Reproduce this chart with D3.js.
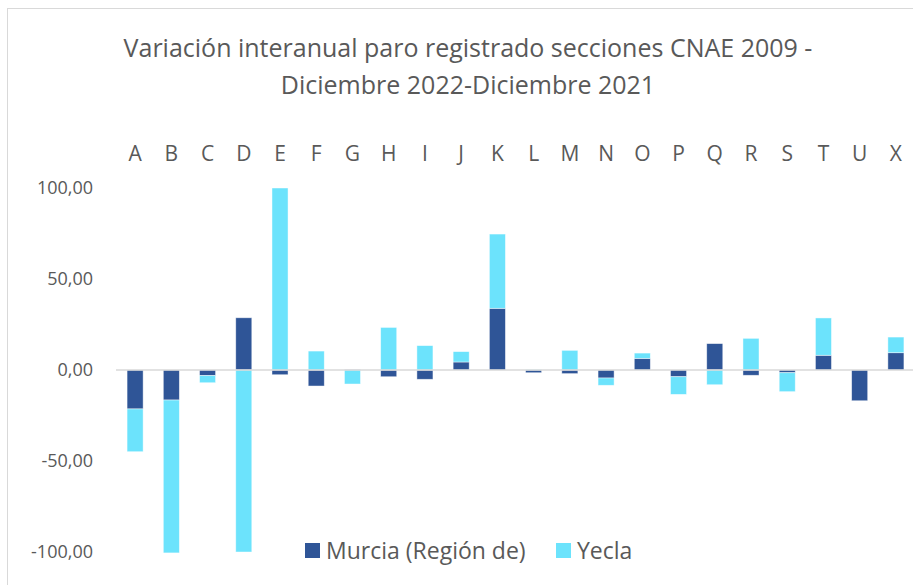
<!DOCTYPE html>
<html>
<head>
<meta charset="utf-8">
<script src="https://cdn.jsdelivr.net/npm/d3@7/dist/d3.min.js"></script>
<style>
  body { margin: 0; background: #fff; }
  svg text { font-family: "Open Sans", "Noto Sans", sans-serif; fill: #595959; }
</style>
</head>
<body>
<div id="chart"></div>
<script>
const categories = [`A`, `B`, `C`, `D`, `E`, `F`, `G`, `H`, `I`, `J`, `K`, `L`, `M`, `N`, `O`, `P`, `Q`, `R`, `S`, `T`, `U`, `X`];
const murcia = [-21.4, -16.5, -3.1, 28.7, -2.6, -8.8, 0.2, -3.7, -5.1, 4.4, 33.9, -1.5, -2.0, -4.4, 6.4, -3.7, 14.5, -2.9, -1.5, 8.1, -16.9, 9.5];
const yecla = [-23.5, -84.0, -3.9, -100.0, 100.0, 10.4, -7.7, 23.4, 13.4, 5.7, 40.8, 0.2, 10.8, -4.0, 2.9, -9.7, -8.1, 17.4, -10.4, 20.5, 0, 8.6];
const seriesNames = [`Murcia (Región de)`, `Yecla`];
const yTicks = [-100, -50, 0, 50, 100];
const titleLines = [`Variación interanual paro registrado secciones CNAE 2009 -`, `Diciembre 2022-Diciembre 2021`];

const width = 913, height = 585;
const colors = [`#2f5597`, `#6ce3fc`];

const svg = d3.select(`#chart`).append(`svg`)
    .attr(`width`, width)
    .attr(`height`, height);

// chart frame (cropped on right/bottom like the original)
svg.append(`rect`)
    .attr(`x`, 7.5).attr(`y`, 8.5)
    .attr(`width`, width + 20).attr(`height`, height + 20)
    .attr(`fill`, `none`)
    .attr(`stroke`, `#d9d9d9`);

svg.append(`text`)
    .attr(`text-anchor`, `middle`)
    .attr(`font-size`, 25)
    .selectAll(`tspan`)
    .data(titleLines)
  .enter().append(`tspan`)
    .attr(`x`, 468)
    .attr(`y`, (d, i) => 57 + i * 37)
    .text(d => d);

const table = categories.map((c, i) => ({ cat: c, m: murcia[i], y: yecla[i] }));
const stacked = d3.stack()
    .keys([`m`, `y`])
    .offset(d3.stackOffsetDiverging)(table);

const x = d3.scaleBand()
    .domain(categories)
    .range([117, 914])
    .paddingInner(0.557)
    .paddingOuter(0.278);

const y = d3.scaleLinear()
    .domain([-100, 100])
    .range([552, 188]);

// y axis labels
const yAxis = svg.append(`g`)
    .attr(`transform`, `translate(93,0)`)
    .call(d3.axisLeft(y).tickValues(yTicks).tickSize(0).tickPadding(0)
      .tickFormat(d => d3.format(`.2f`)(d).replace(`.`, `,`).replace(`−`, `-`)));
yAxis.select(`.domain`).remove();
yAxis.selectAll(`text`).attr(`font-size`, 18).attr(`fill`, `#595959`)
    .style(`font-family`, `"Open Sans", sans-serif`);

// category labels at top
const xAxis = svg.append(`g`)
    .attr(`transform`, `translate(0,161)`)
    .call(d3.axisTop(x).tickSize(0).tickPadding(0));
xAxis.select(`.domain`).remove();
xAxis.selectAll(`text`).attr(`font-size`, 21).attr(`fill`, `#595959`)
    .style(`font-family`, `"Open Sans", sans-serif`);

svg.append(`g`).selectAll(`g`)
    .data(stacked)
  .enter().append(`g`)
    .attr(`fill`, (d, i) => colors[i])
  .selectAll(`rect`)
    .data(d => d)
  .enter().append(`rect`)
    .attr(`x`, d => x(d.data.cat))
    .attr(`width`, x.bandwidth())
    .attr(`y`, d => y(Math.max(d[0], d[1])))
    .attr(`height`, d => Math.abs(y(d[0]) - y(d[1])))
    .attr(`stroke`, `#fff`)
    .attr(`stroke-opacity`, 0.6)
    .attr(`stroke-width`, 0.75);

// zero line
svg.append(`line`)
    .attr(`x1`, 116).attr(`x2`, width)
    .attr(`y1`, y(0)).attr(`y2`, y(0))
    .attr(`stroke`, `#d9d9d9`)
    .attr(`stroke-width`, 1.5);

// legend
const legend = svg.append(`g`).attr(`transform`, `translate(305,551)`);
const legendX = [0, 251];
const items = legend.selectAll(`g`)
    .data(seriesNames)
  .enter().append(`g`)
    .attr(`transform`, (d, i) => `translate(${legendX[i]},0)`);
items.append(`rect`)
    .attr(`y`, -8).attr(`width`, 15).attr(`height`, 15)
    .attr(`fill`, (d, i) => colors[i]);
items.append(`text`)
    .attr(`x`, 21).attr(`dy`, `0.35em`)
    .attr(`font-size`, 23)
    .text(d => d);
</script>
</body>
</html>
